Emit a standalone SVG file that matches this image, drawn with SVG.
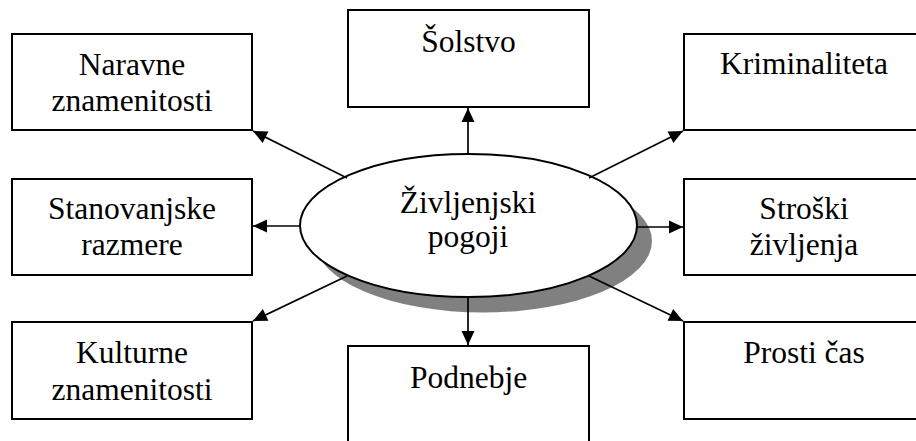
<svg xmlns="http://www.w3.org/2000/svg" width="916" height="441" viewBox="0 0 916 441">
  <defs>
    <style>
      .box { fill: #ffffff; stroke: #000000; stroke-width: 2; }
      .hub { fill: #ffffff; stroke: #000000; stroke-width: 2; }
      .shadow { fill: #808080; stroke: none; }
      .link { fill: none; stroke: #000000; stroke-width: 1.7; marker-end: url(#arrow); }
      .label { font-family: 'Liberation Serif', 'Times New Roman', serif; font-size: 31.5px; fill: #000000; text-anchor: middle; }
    </style>
    <marker id="arrow" markerUnits="userSpaceOnUse" markerWidth="16" markerHeight="16" viewBox="0 0 16 16" refX="15" refY="8" orient="auto">
      <path d="M1,1.5 L15,8 L1,14.5 Z" fill="#000000"/>
    </marker>
  </defs>

  <rect width="916" height="441" fill="#ffffff"/>

  <!-- central ellipse with its drop shadow -->
  <g id="hub">
    <ellipse class="shadow" cx="483.5" cy="241" rx="168.5" ry="71.5"/>
    <ellipse class="hub" cx="468.5" cy="225.5" rx="168.5" ry="71.5"/>
    <text class="label" x="468" y="213">Življenjski</text>
    <text class="label" x="468" y="247">pogoji</text>
  </g>

  <!-- connectors from the ellipse to the surrounding boxes -->
  <g id="connectors">
    <line class="link" x1="468" y1="154" x2="468" y2="108"/>
    <line class="link" x1="468" y1="297" x2="468" y2="345"/>
    <line class="link" x1="300" y1="226" x2="253" y2="226"/>
    <line class="link" x1="637" y1="227" x2="683" y2="227"/>
    <line class="link" x1="347" y1="178" x2="253" y2="131"/>
    <line class="link" x1="589" y1="178" x2="683" y2="131"/>
    <line class="link" x1="347" y1="276" x2="253" y2="321"/>
    <line class="link" x1="589" y1="276" x2="683" y2="321"/>
  </g>

  <g id="naravne">
    <rect class="box" x="12" y="34" width="240" height="96"/>
    <text class="label" x="132" y="75">Naravne</text>
    <text class="label" x="132" y="111">znamenitosti</text>
  </g>

  <g id="solstvo">
    <rect class="box" x="348" y="10" width="241" height="97"/>
    <text class="label" x="468.5" y="52">Šolstvo</text>
  </g>

  <g id="kriminaliteta">
    <rect class="box" x="684" y="34" width="240" height="96"/>
    <text class="label" x="804" y="74">Kriminaliteta</text>
  </g>

  <g id="stanovanjske">
    <rect class="box" x="12" y="179" width="240" height="96"/>
    <text class="label" x="132" y="219">Stanovanjske</text>
    <text class="label" x="132" y="255">razmere</text>
  </g>

  <g id="stroski">
    <rect class="box" x="684" y="179" width="240" height="96"/>
    <text class="label" x="804" y="219">Stroški</text>
    <text class="label" x="804" y="255">življenja</text>
  </g>

  <g id="kulturne">
    <rect class="box" x="12" y="322" width="240" height="97"/>
    <text class="label" x="132" y="363">Kulturne</text>
    <text class="label" x="132" y="400">znamenitosti</text>
  </g>

  <g id="podnebje">
    <rect class="box" x="348" y="346" width="241" height="110"/>
    <text class="label" x="468.5" y="388">Podnebje</text>
  </g>

  <g id="prosti">
    <rect class="box" x="684" y="322" width="240" height="97"/>
    <text class="label" x="804" y="363">Prosti čas</text>
  </g>
</svg>
